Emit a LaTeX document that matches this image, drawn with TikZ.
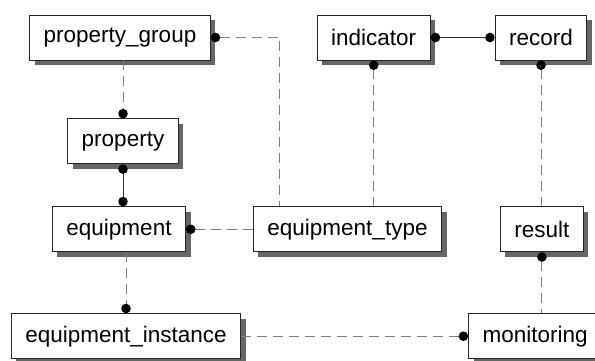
\documentclass[tikz,border=0pt]{standalone}
\usepackage{fontspec}
\setmainfont{Liberation Sans}
\usetikzlibrary{positioning,shadows,arrows.meta}

\begin{document}
\begin{tikzpicture}[
    node distance=40pt,
    >={Circle[length=9.5pt, color=black]},
    box/.style={draw=black!85, fill=white, line width=0.9pt, minimum height=45pt, inner xsep=14pt, inner ysep=0pt,
        font=\fontsize{22.5}{27}\selectfont,
        drop shadow={shadow xshift=5pt, shadow yshift=-5pt, fill=black!60, opacity=1}},
    link/.style={draw=black!50, line width=1pt, dash pattern=on 10pt off 6pt},
    solidlink/.style={draw=black!80, line width=1pt}
]
    \useasboundingbox (0,0) rectangle (595pt,-361pt);

    % Top row
    \node[box] (pg) at (120pt,-37.5pt) {property\_group};
    \node[box, right=106pt of pg] (indicator) {indicator};
    \node[box, right=64pt of indicator] (record) {record};

    % Left column
    \node[box, below=58pt of pg, xshift=3pt] (property) {property};
    \node[box, below=42pt of property, xshift=-4pt] (equipment) {equipment};
    \node[box, below=61pt of equipment, xshift=7pt] (instance) {equipment\_instance};

    % Middle and right
    \node[box, right=67pt of equipment] (eqtype) {equipment\_type};
    \node[box, right=58pt of eqtype] (result) {result};
    \node[box, right=227pt of instance] (monitoring) {monitoring};

    % Connections
    \draw[link, <-] (pg.east) -| ([xshift=27pt]eqtype.north west);
    \draw[link, ->] (property.north |- pg.south) -- (property.north);
    \draw[solidlink, <->] (property.south) -- (property.south |- equipment.north);
    \draw[link, <-] (equipment.east) -- (equipment.east -| eqtype.west);
    \draw[link, ->] (instance.north |- equipment.south) -- (instance.north);
    \draw[link, ->] (instance.east) -- (instance.east -| monitoring.west);
    \draw[solidlink, <->] (indicator) -- (record);
    \draw[link, <-] (indicator.south) -- (indicator.south |- eqtype.north);
    \draw[link, <-] (record.south) -- (record.south |- result.north);
    \draw[link, <-] (result.south) -- (result.south |- monitoring.north);
\end{tikzpicture}
\end{document}
